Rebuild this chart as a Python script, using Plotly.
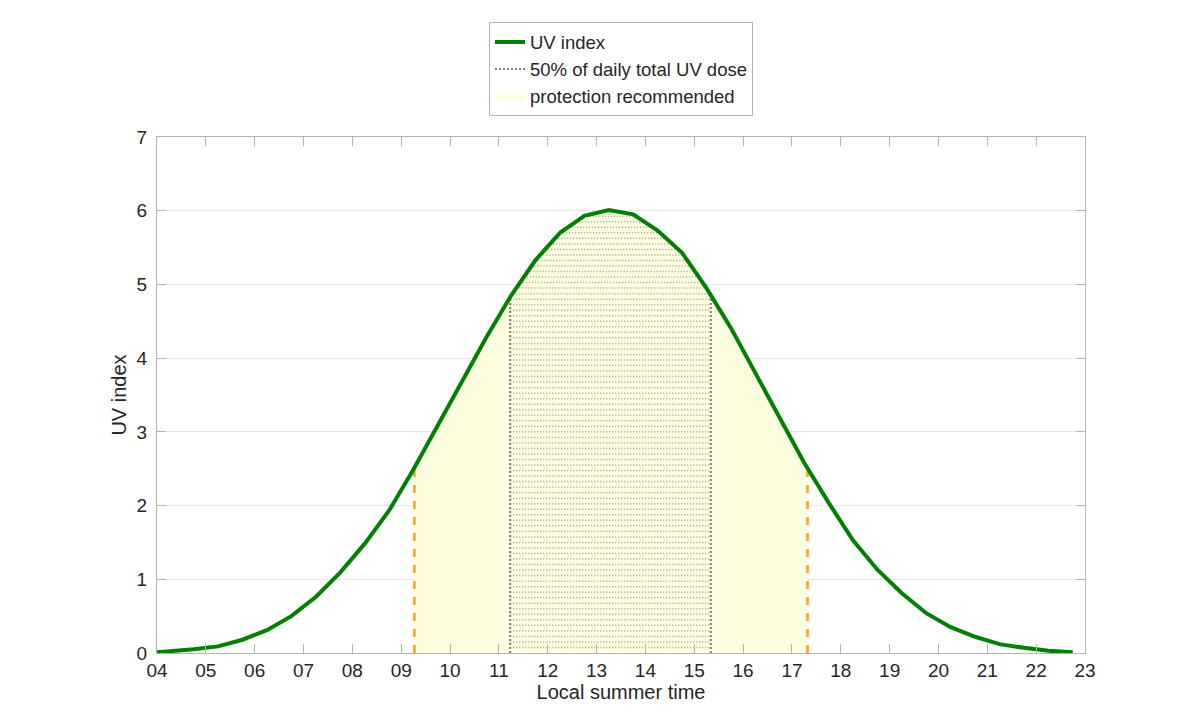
import numpy as np
import plotly.graph_objects as go

# Data
hours = [4.0, 4.25, 4.75, 5.25, 5.75, 6.25, 6.75, 7.25, 7.75, 8.25, 8.75, 9.25, 9.75,
         10.25, 10.75, 11.25, 11.75, 12.25, 12.75, 13.25, 13.75, 14.25, 14.75, 15.25,
         15.75, 16.25, 16.75, 17.25, 17.75, 18.25, 18.75, 19.25, 19.75, 20.25, 20.75,
         21.25, 21.75, 22.25, 22.75]
uv = [0.01, 0.02, 0.05, 0.09, 0.18, 0.31, 0.50, 0.76, 1.09, 1.48, 1.93, 2.49, 3.09,
      3.68, 4.29, 4.85, 5.33, 5.70, 5.93, 6.01, 5.95, 5.73, 5.43, 4.95,
      4.41, 3.80, 3.19, 2.58, 2.04, 1.53, 1.13, 0.81, 0.54, 0.35, 0.22,
      0.12, 0.07, 0.03, 0.01]
dose50_start, dose50_end = 11.23, 15.34
protect_start, protect_end = 9.27, 17.32
x_ticks = list(range(4, 24))
x_ticklabels = [f"{h:02d}" for h in x_ticks]
y_ticks = list(range(0, 8))

hours_a = np.array(hours)
uv_a = np.array(uv)


def segment(a, b):
    inner = hours_a[(hours_a > a) & (hours_a < b)]
    xs = np.concatenate([[a], inner, [b]])
    ys = np.interp(xs, hours_a, uv_a)
    return xs, ys


fig = go.Figure()

# protection fill
px_, py_ = segment(protect_start, protect_end)
fig.add_trace(go.Scatter(
    x=np.concatenate([[protect_start], px_, [protect_end]]),
    y=np.concatenate([[0], py_, [0]]),
    fill="toself", fillcolor="#fdfde0", mode="lines", line=dict(width=0),
    name="protection recommended", legendrank=3, hoverinfo="skip"))

# 50% dose hatch: rows of dots under the curve
dense_x = np.linspace(dose50_start, dose50_end, 3000)
dense_y = np.interp(dense_x, hours_a, uv_a)
row_step = 0.075
hx, hy = [], []
for lvl in np.arange(row_step, dense_y.max(), row_step):
    m = dense_y >= lvl
    if not m.any():
        continue
    hx += [dense_x[m].min(), dense_x[m].max(), None]
    hy += [lvl, lvl, None]
fig.add_trace(go.Scatter(x=hx, y=hy, mode="lines",
                         line=dict(color="rgba(100,100,100,0.5)", width=1.5, dash="1.2px,1.8px"),
                         showlegend=False, hoverinfo="skip"))

# dotted boundary lines
for xv in (dose50_start, dose50_end):
    yv = float(np.interp(xv, hours_a, uv_a))
    fig.add_trace(go.Scatter(x=[xv, xv], y=[0, yv], mode="lines",
                             line=dict(color="#8a8a8a", width=2.2, dash="2px,2px"),
                             showlegend=False, hoverinfo="skip"))

# legend entry for dose
fig.add_trace(go.Scatter(x=[None], y=[None], mode="lines",
                         line=dict(color="#808080", width=2, dash="2px,2px"),
                         name="50% of daily total UV dose", legendrank=2))

# orange dashed lines
for xv in (protect_start, protect_end):
    yv = float(np.interp(xv, hours_a, uv_a))
    fig.add_trace(go.Scatter(x=[xv, xv], y=[0, yv], mode="lines",
                             line=dict(color="#FFA500", width=2.5, dash="8px,8px"),
                             showlegend=False, hoverinfo="skip"))

# UV curve
fig.add_trace(go.Scatter(x=hours, y=uv, mode="lines",
                         line=dict(color="#008000", width=4),
                         name="UV index", legendrank=1))

axis_common = dict(showline=True, linecolor="#b4b4b4", linewidth=1, mirror="ticks",
                   ticks="inside", ticklen=9, tickcolor="#b4b4b4", zeroline=False,
                   tickfont=dict(size=19, color="#262626"))

fig.update_xaxes(range=[4, 23], tickvals=x_ticks, ticktext=x_ticklabels, showgrid=False,
                 title=dict(text="Local summer time", font=dict(size=20, color="#262626"),
                            standoff=3),
                 **axis_common)
fig.update_yaxes(range=[0, 7], tickvals=y_ticks, showgrid=True, gridcolor="#e6e6e6",
                 ticklabelstandoff=5,
                 title=dict(text="UV index", font=dict(size=20, color="#262626"),
                            standoff=4),
                 **axis_common)

fig.update_layout(
    width=1200, height=723,
    margin=dict(l=157, r=115, t=137, b=70),
    plot_bgcolor="white", paper_bgcolor="white",
    font=dict(family="Liberation Sans, Arial, sans-serif", color="#262626"),
    showlegend=True,
    legend=dict(x=0.5, xanchor="center", y=1.04, yanchor="bottom",
                bordercolor="#b4b4b4", borderwidth=1, bgcolor="white",
                font=dict(size=18.5), tracegroupgap=0,
                traceorder="normal"),
)

fig.write_html("out.html")
